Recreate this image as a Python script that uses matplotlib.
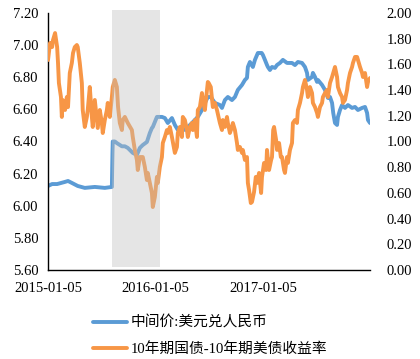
import matplotlib
matplotlib.use("Agg")
import matplotlib.pyplot as plt
import pandas as pd

plt.rcParams['font.family'] = ['Liberation Serif', 'Noto Sans CJK SC']

# 中间价:美元兑人民币 (left axis)
cny_dates = ['2015-01-05', '2015-01-19', '2015-02-05', '2015-03-03', '2015-03-14',
             '2015-03-27', '2015-04-16', '2015-05-10', '2015-06-13', '2015-07-17',
             '2015-08-10', '2015-08-11', '2015-08-12', '2015-08-13', '2015-08-20',
             '2015-08-27', '2015-09-13', '2015-09-23', '2015-10-03', '2015-10-20',
             '2015-11-03', '2015-11-13', '2015-11-23', '2015-12-07', '2015-12-17',
             '2015-12-24', '2015-12-27', '2016-01-10', '2016-01-27', '2016-02-06',
             '2016-02-16', '2016-03-01', '2016-03-11', '2016-03-21', '2016-04-04',
             '2016-04-14', '2016-04-24', '2016-05-08', '2016-05-18', '2016-05-28',
             '2016-06-11', '2016-06-21', '2016-07-01', '2016-07-11', '2016-07-25',
             '2016-08-11', '2016-08-18', '2016-08-28', '2016-09-07', '2016-09-21',
             '2016-10-01', '2016-10-11', '2016-10-25', '2016-11-04', '2016-11-11',
             '2016-11-14', '2016-11-21', '2016-12-01', '2016-12-08', '2016-12-18',
             '2016-12-31', '2017-01-04', '2017-01-11', '2017-01-18', '2017-01-21',
             '2017-01-28', '2017-02-04', '2017-02-14', '2017-02-21', '2017-03-03',
             '2017-03-13', '2017-03-27', '2017-04-06', '2017-04-13', '2017-04-23',
             '2017-05-03', '2017-05-17', '2017-05-27', '2017-06-03', '2017-06-06',
             '2017-06-20', '2017-06-23', '2017-06-30', '2017-07-07', '2017-07-10',
             '2017-07-24', '2017-08-03', '2017-08-13', '2017-08-20', '2017-08-27',
             '2017-08-31', '2017-09-06', '2017-09-13', '2017-09-16', '2017-09-23',
             '2017-09-30', '2017-10-10', '2017-10-20', '2017-11-03', '2017-11-13',
             '2017-11-23', '2017-12-07', '2017-12-17', '2017-12-24', '2017-12-27',
             '2018-01-03']
cny_values = [6.123, 6.135, 6.135, 6.148, 6.154, 6.142, 6.123, 6.111, 6.117, 6.111,
              6.117, 6.23, 6.33, 6.40, 6.40, 6.39, 6.37, 6.37, 6.36, 6.329,
              6.316, 6.36, 6.378, 6.397, 6.453, 6.484, 6.49, 6.553, 6.553, 6.546,
              6.515, 6.546, 6.503, 6.472, 6.484, 6.472, 6.49, 6.515, 6.534, 6.553,
              6.596, 6.64, 6.677, 6.677, 6.64, 6.627, 6.609, 6.658, 6.677, 6.658,
              6.677, 6.721, 6.752, 6.783, 6.796, 6.864, 6.895, 6.864, 6.908, 6.951,
              6.951, 6.939, 6.908, 6.876, 6.864, 6.845, 6.864, 6.858, 6.876, 6.889,
              6.908, 6.889, 6.889, 6.889, 6.876, 6.895, 6.889, 6.864, 6.827, 6.783,
              6.802, 6.827, 6.802, 6.771, 6.783, 6.752, 6.721, 6.671, 6.677, 6.64,
              6.578, 6.515, 6.503, 6.553, 6.596, 6.627, 6.609, 6.627, 6.609, 6.615,
              6.596, 6.609, 6.615, 6.578, 6.534, 6.515]

# 10年期国债-10年期美债收益率 (right axis)
spread_dates = ['2015-01-05', '2015-01-12', '2015-01-19', '2015-01-22', '2015-01-29',
                '2015-02-05', '2015-02-08', '2015-02-11', '2015-02-18', '2015-02-21',
                '2015-02-24', '2015-03-04', '2015-03-10', '2015-03-14', '2015-03-20',
                '2015-03-27', '2015-03-31', '2015-04-06', '2015-04-13', '2015-04-16',
                '2015-04-23', '2015-04-30', '2015-05-03', '2015-05-10', '2015-05-17',
                '2015-05-20', '2015-05-27', '2015-06-03', '2015-06-06', '2015-06-13',
                '2015-06-20', '2015-06-23', '2015-06-30', '2015-07-07', '2015-07-10',
                '2015-07-17', '2015-07-24', '2015-07-27', '2015-08-03', '2015-08-10',
                '2015-08-13', '2015-08-20', '2015-08-27', '2015-08-31', '2015-09-06',
                '2015-09-13', '2015-09-16', '2015-09-23', '2015-10-03', '2015-10-17',
                '2015-10-20', '2015-10-27', '2015-11-03', '2015-11-06', '2015-11-13',
                '2015-11-23', '2015-11-30', '2015-12-07', '2015-12-10', '2015-12-17',
                '2015-12-24', '2015-12-27', '2016-01-03', '2016-01-10', '2016-01-13',
                '2016-01-20', '2016-01-27', '2016-01-30', '2016-02-06', '2016-02-13',
                '2016-02-16', '2016-02-23', '2016-03-01', '2016-03-11', '2016-03-18',
                '2016-03-21', '2016-03-28', '2016-04-04', '2016-04-07', '2016-04-14',
                '2016-04-21', '2016-04-24', '2016-05-01', '2016-05-08', '2016-05-11',
                '2016-05-18', '2016-05-25', '2016-05-28', '2016-06-04', '2016-06-11',
                '2016-06-14', '2016-06-21', '2016-06-28', '2016-07-01', '2016-07-04',
                '2016-07-11', '2016-07-18', '2016-07-25', '2016-08-01', '2016-08-11',
                '2016-08-18', '2016-08-21', '2016-08-28', '2016-09-04', '2016-09-07',
                '2016-09-14', '2016-09-21', '2016-09-24', '2016-10-01', '2016-10-08',
                '2016-10-11', '2016-10-18', '2016-10-25', '2016-10-28', '2016-11-04',
                '2016-11-11', '2016-11-14', '2016-11-18', '2016-11-24', '2016-11-28',
                '2016-12-05', '2016-12-11', '2016-12-15', '2016-12-22', '2016-12-29',
                '2017-01-01', '2017-01-08', '2017-01-15', '2017-01-18', '2017-01-25',
                '2017-02-01', '2017-02-04', '2017-02-08', '2017-02-11', '2017-02-18',
                '2017-02-21', '2017-02-28', '2017-03-06', '2017-03-10', '2017-03-17',
                '2017-03-20', '2017-03-27', '2017-03-30', '2017-04-06', '2017-04-13',
                '2017-04-16', '2017-04-23', '2017-04-30', '2017-05-03', '2017-05-10',
                '2017-05-17', '2017-05-20', '2017-05-27', '2017-06-03', '2017-06-06',
                '2017-06-13', '2017-06-20', '2017-06-23', '2017-06-30', '2017-07-07',
                '2017-07-10', '2017-07-17', '2017-07-24', '2017-07-27', '2017-08-03',
                '2017-08-10', '2017-08-13', '2017-08-20', '2017-08-27', '2017-08-31',
                '2017-09-06', '2017-09-13', '2017-09-16', '2017-09-23', '2017-09-30',
                '2017-10-03', '2017-10-10', '2017-10-17', '2017-10-20', '2017-10-27',
                '2017-11-03', '2017-11-06', '2017-11-13', '2017-11-20', '2017-11-23',
                '2017-11-30', '2017-12-07', '2017-12-10', '2017-12-17', '2017-12-24',
                '2017-12-27', '2018-01-03']
spread_values = [1.634, 1.767, 1.735, 1.790, 1.844, 1.735, 1.611, 1.455, 1.346, 1.191,
                 1.323, 1.245, 1.346, 1.268, 1.533, 1.611, 1.689, 1.735, 1.751, 1.735,
                 1.611, 1.455, 1.245, 1.113, 1.191, 1.245, 1.424, 1.191, 1.113, 1.323,
                 1.167, 1.105, 1.245, 1.144, 1.066, 1.167, 1.245, 1.300, 1.191, 1.346,
                 1.424, 1.479, 1.424, 1.268, 1.144, 1.089, 1.167, 1.191, 1.144, 1.089,
                 1.035, 0.934, 0.856, 0.778, 0.879, 0.879, 0.802, 0.700, 0.755, 0.677,
                 0.599, 0.490, 0.568, 0.724, 0.677, 0.802, 0.879, 0.988, 1.035, 1.089,
                 1.066, 1.113, 1.035, 0.911, 0.957, 1.066, 1.113, 1.035, 1.191, 1.167,
                 1.089, 1.035, 1.113, 1.144, 1.089, 1.167, 1.035, 1.245, 1.268, 1.377,
                 1.323, 1.245, 1.401, 1.463, 1.455, 1.424, 1.268, 1.300, 1.245, 1.144,
                 1.089, 1.167, 1.113, 1.191, 1.144, 1.066, 1.113, 1.144, 1.089, 0.988,
                 0.934, 0.957, 0.911, 0.934, 0.856, 0.879, 0.677, 0.623, 0.521, 0.529,
                 0.607, 0.724, 0.677, 0.755, 0.599, 0.724, 0.833, 0.778, 0.934, 0.778,
                 0.856, 0.879, 1.089, 1.113, 1.011, 0.934, 0.988, 0.879, 0.879, 0.778,
                 0.755, 0.879, 0.833, 0.934, 0.988, 1.144, 1.167, 1.144, 1.245, 1.300,
                 1.377, 1.424, 1.479, 1.401, 1.346, 1.424, 1.377, 1.300, 1.268, 1.222,
                 1.191, 1.268, 1.300, 1.346, 1.377, 1.401, 1.346, 1.455, 1.502, 1.533,
                 1.580, 1.502, 1.424, 1.377, 1.346, 1.300, 1.323, 1.401, 1.455, 1.533,
                 1.580, 1.611, 1.658, 1.658, 1.634, 1.580, 1.533, 1.502, 1.533, 1.424,
                 1.463, 1.494]

shade_span = ['2015-08-11', '2016-01-20']
xtick_labels = ['2015-01-05', '2016-01-05', '2017-01-05']
left_ticks = [5.60, 5.80, 6.00, 6.20, 6.40, 6.60, 6.80, 7.00, 7.20]
right_ticks = [0.00, 0.20, 0.40, 0.60, 0.80, 1.00, 1.20, 1.40, 1.60, 1.80, 2.00]

blue = '#5b9bd5'
orange = '#f79646'

cny_x = pd.to_datetime(cny_dates)
spread_x = pd.to_datetime(spread_dates)

fig = plt.figure(figsize=(4.2, 3.59), dpi=100)
ax = fig.add_axes([0.1143, 0.248, 0.7667, 0.7158])
ax2 = ax.twinx()

l1, = ax.plot(cny_x, cny_values, color=blue, lw=2.8, solid_capstyle='round',
              label='中间价:美元兑人民币', zorder=2)
l2, = ax2.plot(spread_x, spread_values, color=orange, lw=2.8, solid_capstyle='round',
               label='10年期国债-10年期美债收益率', zorder=2)

# grey band drawn over the lines, as in the original
s0, s1 = pd.to_datetime(shade_span)
ax2.axvspan(s0, s1, ymin=0.012, ymax=1.012, color='#bfbfbf', alpha=0.4,
            lw=0, zorder=5, clip_on=False)

ax.set_ylim(5.6, 7.2)
ax2.set_ylim(0, 2.0)
ax.set_xlim(cny_x[0], cny_x[-1])

ax.set_yticks(left_ticks)
ax.set_yticklabels([f'{v:.2f}' for v in left_ticks])
ax2.set_yticks(right_ticks)
ax2.set_yticklabels([f'{v:.2f}' for v in right_ticks])
ax.set_xticks(pd.to_datetime(xtick_labels))
ax.set_xticklabels(xtick_labels)

for a in (ax, ax2):
    a.tick_params(length=0, labelsize=10.5, colors='black')
    for side in ('top', 'right'):
        a.spines[side].set_visible(False)
ax2.spines['left'].set_visible(False)
ax2.spines['bottom'].set_visible(False)
ax.spines['left'].set_linewidth(1.0)
ax.spines['bottom'].set_linewidth(1.0)
ax.tick_params(axis='y', pad=7)
ax2.tick_params(axis='y', pad=12)
ax.tick_params(axis='x', pad=9)

fig.legend(handles=[l1, l2], loc='upper left', bbox_to_anchor=(0.221, 0.120),
           frameon=False, fontsize=10.6, handlelength=2.3, handletextpad=0.3,
           labelspacing=0.83, borderpad=0, borderaxespad=0)

fig.savefig('out.png', dpi=100)
